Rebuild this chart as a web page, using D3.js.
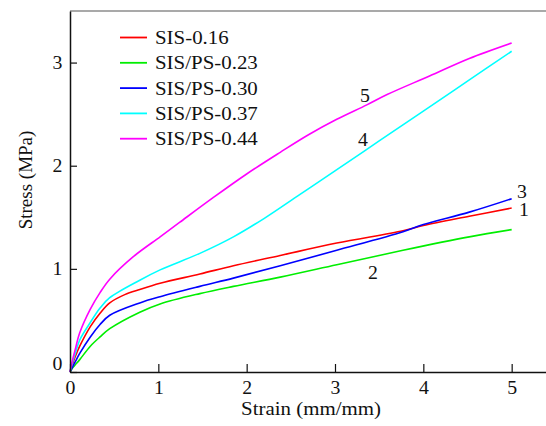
<!DOCTYPE html>
<html>
<head>
<meta charset="utf-8">
<script src="https://cdn.jsdelivr.net/npm/d3@7"></script>
<style>
  body { margin: 0; background: #fff; }
  svg { display: block; }
  text { font-family: "Liberation Serif", "Times New Roman", serif; fill: #111; }
</style>
</head>
<body>
<div id="chart"></div>
<script>
// stress-strain curves
const seriesNames = ["SIS-0.16", "SIS/PS-0.23", "SIS/PS-0.30", "SIS/PS-0.37", "SIS/PS-0.44"];
const seriesColors = ["#ff0000", "#00ee00", "#0000ff", "#00ffff", "#ff00ff"];
const curveLabels = ["1", "2", "3", "4", "5"];

const strain1 = [0, 0.03, 0.06, 0.11, 0.23, 0.34, 0.45, 0.62, 0.79, 1.02, 1.47, 1.85, 2.38, 3.02, 3.77, 4.0, 4.52, 5.0];
const stress1 = [0, 0.08, 0.15, 0.25, 0.44, 0.57, 0.67, 0.75, 0.80, 0.86, 0.95, 1.03, 1.13, 1.25, 1.37, 1.42, 1.51, 1.59];

const strain2 = [0, 0.03, 0.06, 0.11, 0.23, 0.34, 0.45, 0.79, 1.02, 1.47, 1.85, 2.38, 3.02, 3.77, 4.52, 5.0];
const stress2 = [0, 0.04, 0.07, 0.12, 0.25, 0.34, 0.42, 0.58, 0.66, 0.76, 0.83, 0.92, 1.04, 1.18, 1.31, 1.38];

const strain3 = [0, 0.03, 0.06, 0.11, 0.23, 0.34, 0.45, 0.79, 1.02, 1.47, 1.85, 2.38, 3.02, 3.77, 4.0, 4.52, 5.0];
const stress3 = [0, 0.05, 0.10, 0.18, 0.34, 0.46, 0.55, 0.67, 0.73, 0.83, 0.91, 1.03, 1.18, 1.36, 1.43, 1.55, 1.68];

const strain4 = [0, 0.03, 0.06, 0.11, 0.23, 0.34, 0.45, 0.79, 1.02, 1.47, 1.85, 2.2, 2.6, 3.0, 3.5, 4.0, 4.5, 5.0];
const stress4 = [0, 0.10, 0.18, 0.31, 0.48, 0.62, 0.72, 0.89, 0.99, 1.15, 1.31, 1.49, 1.72, 1.95, 2.24, 2.53, 2.82, 3.11];

const strain5 = [0, 0.03, 0.06, 0.11, 0.23, 0.34, 0.45, 0.72, 1.02, 1.24, 1.62, 2.0, 2.38, 2.7, 3.02, 3.36, 3.59, 4.07, 4.52, 5.0];
const stress5 = [0, 0.12, 0.22, 0.38, 0.61, 0.77, 0.90, 1.12, 1.31, 1.45, 1.69, 1.92, 2.13, 2.30, 2.45, 2.59, 2.69, 2.87, 3.04, 3.19];

const xTicks = [0, 1, 2, 3, 4, 5];
const yTicks = [0, 1, 2, 3];

const strains = [strain1, strain2, strain3, strain4, strain5];
const stresses = [stress1, stress2, stress3, stress4, stress5];

const W = 546, H = 426;
const margin = { top: 11, right: 0, bottom: 54, left: 70 };
const sx = "scale(1.1,1)"; // the source figure is a little wide

const svg = d3.select("#chart").append("svg")
    .attr("width", W)
    .attr("height", H);

const x = d3.scaleLinear().domain([0, 5.4]).range([margin.left, 547]);
const y = d3.scaleLinear().domain([0, 3.5]).range([H - margin.bottom, margin.top]);

// top frame line
svg.append("line")
    .attr("x1", margin.left).attr("x2", W)
    .attr("y1", y(3.5)).attr("y2", y(3.5))
    .attr("stroke", "#555").attr("stroke-width", 1.2);

// curves
const line = d3.line()
    .x(d => x(d[0]))
    .y(d => y(d[1]))
    .curve(d3.curveCatmullRom.alpha(0.5));

strains.forEach((xs, i) => {
    const pts = xs.map((v, j) => [v, stresses[i][j]]);
    svg.append("path")
        .attr("d", line(pts))
        .attr("fill", "none")
        .attr("stroke", seriesColors[i])
        .attr("stroke-width", 1.6);
});

// X axis
const xAxis = svg.append("g")
    .attr("transform", `translate(0,${y(0)})`)
    .call(d3.axisBottom(x).tickValues(xTicks).tickSizeInner(-8).tickSizeOuter(0).tickPadding(9).tickFormat(d3.format("d")));
xAxis.select(".domain").attr("stroke", "#111").attr("stroke-width", 1.5);
xAxis.selectAll(".tick line").attr("stroke", "#111").attr("stroke-width", 1.2);
xAxis.selectAll("text")
    .attr("font-size", "18px")
    .attr("font-family", "Liberation Serif")
    .attr("fill", "#111")
    .attr("transform", sx);

// Y axis
const yAxis = svg.append("g")
    .attr("transform", `translate(${x(0)},0)`)
    .call(d3.axisLeft(y).tickValues(yTicks).tickSizeInner(-7).tickSizeOuter(0).tickPadding(7).tickFormat(d3.format("d")));
yAxis.select(".domain").attr("stroke", "#111").attr("stroke-width", 1.5);
yAxis.selectAll(".tick line").attr("stroke", "#111").attr("stroke-width", 1.2);
yAxis.selectAll("text")
    .attr("font-size", "18px")
    .attr("font-family", "Liberation Serif")
    .attr("fill", "#111")
    .attr("transform", sx)
    .attr("dy", d => d === 0 ? "-0.12em" : "0.32em");

// axis titles
svg.append("text")
    .attr("transform", `translate(311,415) ${sx}`)
    .attr("text-anchor", "middle")
    .attr("font-size", "19px")
    .text("Strain (mm/mm)");

svg.append("text")
    .attr("transform", "translate(32,180) rotate(-90)")
    .attr("text-anchor", "middle")
    .attr("font-size", "19px")
    .text("Stress (MPa)");

// curve number labels
const labelPos = [[524, 216], [373, 279], [522, 198], [363, 146], [365, 101.5]];
curveLabels.forEach((t, i) => {
    svg.append("text")
        .attr("transform", `translate(${labelPos[i][0]},${labelPos[i][1]}) ${sx}`)
        .attr("text-anchor", "middle")
        .attr("font-size", "18px")
        .text(t);
});

// legend
const legend = svg.append("g").attr("transform", "translate(120,37.5)");
const items = legend.selectAll(".legend-item")
    .data(seriesNames)
    .join("g")
    .attr("class", "legend-item")
    .attr("transform", (d, i) => `translate(0,${i * 25.3})`);

items.append("line")
    .attr("x1", 0).attr("x2", 27)
    .attr("stroke", (d, i) => seriesColors[i])
    .attr("stroke-width", 1.8);

items.append("text")
    .attr("transform", `translate(35,6.5) ${sx}`)
    .attr("font-size", "19px")
    .text(d => d);
</script>
</body>
</html>
